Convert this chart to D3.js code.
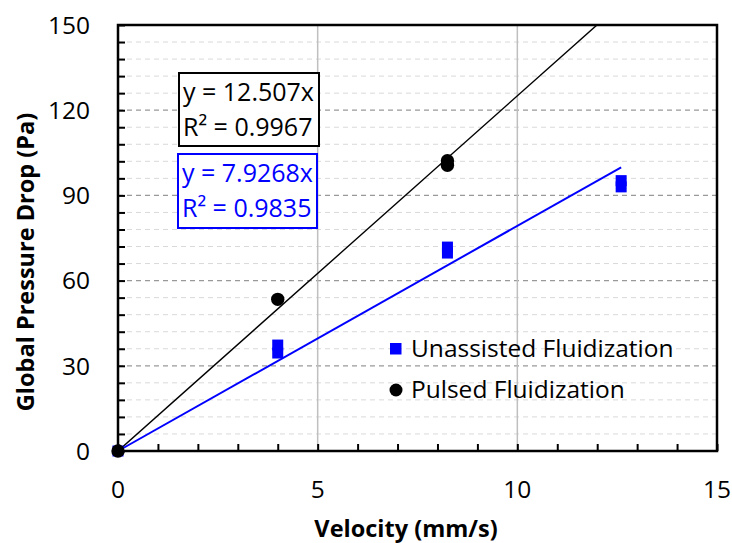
<!DOCTYPE html>
<html>
<head>
<meta charset="utf-8">
<script src="https://d3js.org/d3.v7.min.js"></script>
<style>
  body { margin: 0; background: #fff; }
  text { font-family: "Open Sans", "Noto Sans", sans-serif; }
</style>
</head>
<body>
<div id="chart"></div>
<script>
// data
const unassistedX = [0, 4, 4, 8.25, 8.25, 12.6, 12.6];
const unassistedY = [0, 37.3, 34.5, 71.8, 69.7, 95.2, 93.0];
const pulsedX = [0, 4, 8.25, 8.25];
const pulsedY = [0, 53.4, 102.2, 100.6];
const slopes = { pulsed: 12.507, unassisted: 7.9268 };
const fitText = {
    pulsed: ["y = 12.507x", "R² = 0.9967"],
    unassisted: ["y = 7.9268x", "R² = 0.9835"]
};
const xTicks = [0, 5, 10, 15];
const yTicks = [0, 30, 60, 90, 120, 150];
const legendLabels = ["Unassisted Fluidization", "Pulsed Fluidization"];

const W = 732, H = 543;
const margins = { l: 118, t: 25, r: 15, b: 92 };
const chartWidth = W - margins.l - margins.r;
const chartHeight = H - margins.t - margins.b;

const BLUE = "#0000ff";

const x = d3.scaleLinear().domain([0, 15]).range([0, chartWidth]);
const y = d3.scaleLinear().domain([0, 150]).range([chartHeight, 0]);

const svg = d3.select("#chart").append("svg")
    .attr("width", W)
    .attr("height", H);

const g = svg.append("g")
    .attr("transform", `translate(${margins.l},${margins.t})`);

// minor horizontal gridlines every 6
g.append("g").selectAll("line")
    .data(d3.range(6, 150, 6).filter(v => v % 30 !== 0))
    .join("line")
    .attr("x1", 0).attr("x2", chartWidth)
    .attr("y1", d => y(d)).attr("y2", d => y(d))
    .attr("stroke", "#d9d9d9")
    .attr("stroke-width", 1)
    .attr("stroke-dasharray", "5,4");

// major horizontal gridlines
g.append("g").selectAll("line")
    .data(yTicks.filter(v => v > 0 && v < 150))
    .join("line")
    .attr("x1", 0).attr("x2", chartWidth)
    .attr("y1", d => y(d)).attr("y2", d => y(d))
    .attr("stroke", "#999")
    .attr("stroke-width", 1.2)
    .attr("stroke-dasharray", "5,4");

// vertical gridlines
g.append("g").selectAll("line")
    .data([5, 10])
    .join("line")
    .attr("x1", d => x(d)).attr("x2", d => x(d))
    .attr("y1", 0).attr("y2", chartHeight)
    .attr("stroke", "#bfbfbf")
    .attr("stroke-width", 1.5);

// minor ticks, pointing inward
g.append("g")
    .call(d3.axisLeft(y).tickValues(d3.range(0, 151, 6)).tickSize(-7).tickFormat(""))
    .call(a => a.select(".domain").remove())
    .selectAll("line").attr("stroke", "#000").attr("stroke-width", 2);

g.append("g")
    .attr("transform", `translate(0,${chartHeight})`)
    .call(d3.axisBottom(x).tickValues(d3.range(0, 16, 1)).tickSize(-7).tickFormat(""))
    .call(a => a.select(".domain").remove())
    .selectAll("line").attr("stroke", "#000").attr("stroke-width", 2);

// tick labels
g.append("g").selectAll("text")
    .data(yTicks)
    .join("text")
    .attr("x", -28)
    .attr("y", d => y(d))
    .attr("dy", "0.36em")
    .attr("text-anchor", "end")
    .attr("font-size", 24.5)
    .text(d => d);

g.append("g").selectAll("text")
    .data(xTicks)
    .join("text")
    .attr("x", d => x(d))
    .attr("y", chartHeight + 47)
    .attr("text-anchor", "middle")
    .attr("font-size", 24.5)
    .text(d => d);

// frame
g.append("rect")
    .attr("width", chartWidth)
    .attr("height", chartHeight)
    .attr("fill", "none")
    .attr("stroke", "#000")
    .attr("stroke-width", 2.5);

// trendlines
g.append("clipPath").attr("id", "clip")
    .append("rect").attr("width", chartWidth).attr("height", chartHeight);

const xMax = d3.max(unassistedX);
const line = d3.line().x(d => x(d[0])).y(d => y(d[1]));

g.append("path")
    .attr("clip-path", "url(#clip)")
    .attr("d", line([[0, 0], [xMax, slopes.pulsed * xMax]]))
    .attr("stroke", "#000")
    .attr("stroke-width", 1.4)
    .attr("fill", "none");

g.append("path")
    .attr("d", line([[0, 0], [xMax, slopes.unassisted * xMax]]))
    .attr("stroke", BLUE)
    .attr("stroke-width", 2)
    .attr("fill", "none");

// markers
const sq = 11;
g.append("g").selectAll("rect")
    .data(d3.zip(unassistedX, unassistedY))
    .join("rect")
    .attr("x", d => x(d[0]) - sq / 2)
    .attr("y", d => y(d[1]) - sq / 2)
    .attr("width", sq)
    .attr("height", sq)
    .attr("fill", BLUE);

g.append("g").selectAll("circle")
    .data(d3.zip(pulsedX, pulsedY))
    .join("circle")
    .attr("cx", d => x(d[0]))
    .attr("cy", d => y(d[1]))
    .attr("r", 6.7)
    .attr("fill", "#000");

// equation boxes
function fitBox(lines, color, bx, by, bw, bh) {
    let box = svg.append("g").attr("transform", `translate(${bx},${by})`);
    box.append("rect")
        .attr("width", bw).attr("height", bh)
        .attr("fill", "#fff")
        .attr("stroke", color)
        .attr("stroke-width", 2);
    box.selectAll("text")
        .data(lines)
        .join("text")
        .attr("x", 4)
        .attr("y", (d, i) => 28 + i * 35)
        .attr("font-size", 25)
        .attr("fill", color)
        .text(d => d);
}
fitBox(fitText.pulsed, "#000", 179, 73, 140, 73);
fitBox(fitText.unassisted, BLUE, 178, 154, 139, 74);

// legend
let legend = svg.append("g");
legend.append("rect")
    .attr("x", 390).attr("y", 343)
    .attr("width", 11.5).attr("height", 11.5)
    .attr("fill", BLUE);
legend.append("circle")
    .attr("cx", 396).attr("cy", 390)
    .attr("r", 6.5)
    .attr("fill", "#000");
legend.selectAll("text")
    .data(legendLabels)
    .join("text")
    .attr("x", 411)
    .attr("y", (d, i) => 357 + i * 41)
    .attr("font-size", 24.5)
    .text(d => d);

// axis titles
svg.append("text")
    .attr("x", 406)
    .attr("y", 537)
    .attr("text-anchor", "middle")
    .attr("font-size", 23.5)
    .attr("font-weight", "bold")
    .text("Velocity (mm/s)");

svg.append("text")
    .attr("transform", "translate(34,262) rotate(-90)")
    .attr("text-anchor", "middle")
    .attr("font-size", 23.5)
    .attr("font-weight", "bold")
    .text("Global Pressure Drop (Pa)");
</script>
</body>
</html>
